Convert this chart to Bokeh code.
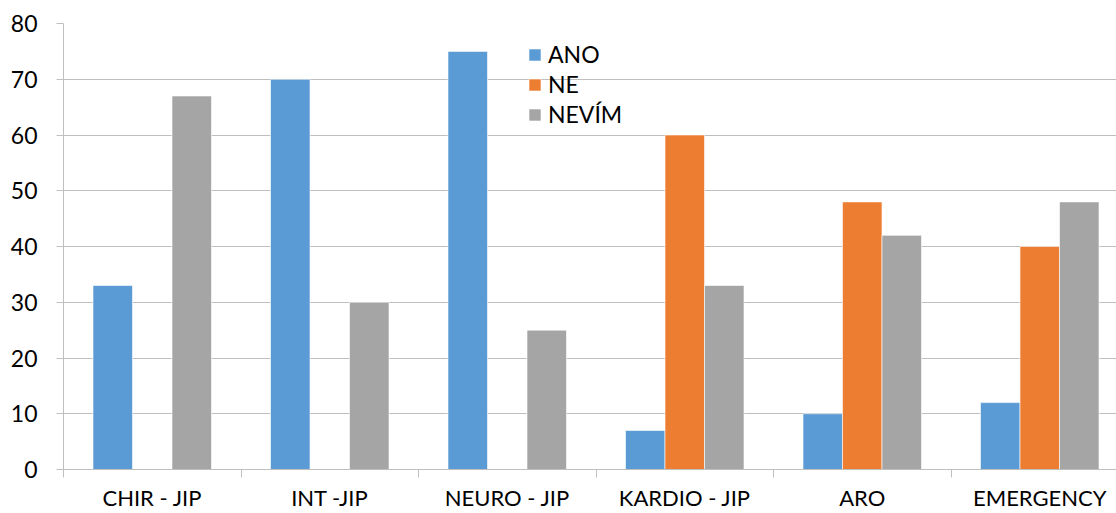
from bokeh.plotting import figure
from bokeh.models import Range1d, FixedTicker, Legend, LegendItem, ColumnDataSource
from bokeh.embed import file_html
from bokeh.resources import INLINE

categories = ["CHIR - JIP", "INT -JIP", "NEURO - JIP", "KARDIO - JIP", "ARO", "EMERGENCY"]
series_names = ["ANO", "NE", "NEVÍM"]
ano = [33, 70, 75, 7, 10, 12]
ne = [0, 0, 0, 60, 48, 40]
nevim = [67, 30, 25, 33, 42, 48]
colors = ["#5B9BD5", "#ED7D31", "#A5A5A5"]
y_ticks = [0, 10, 20, 30, 40, 50, 60, 70, 80]

FONT = "Lato"
W, H = 1116, 513
left, top, bottom = 63, 23, 43
frame_w = W - left
px_per_cat = 177.5

p = figure(width=W, height=H, output_backend="svg", toolbar_location=None,
           x_range=Range1d(0, frame_w / px_per_cat), y_range=Range1d(0, 80),
           min_border_left=left, min_border_right=0, min_border_top=top,
           min_border_bottom=bottom)
p.outline_line_color = None
p.background_fill_color = "white"
p.border_fill_color = "white"

bw = 39.5 / px_per_cat
offsets = [-bw, 0, bw]
renderers = []
for vals, off, col in zip([ano, ne, nevim], offsets, colors):
    xs = [i + 0.5 + off for i, v in enumerate(vals) if v > 0]
    tops = [v for v in vals if v > 0]
    src = ColumnDataSource(dict(x=xs, top=tops))
    r = p.vbar(x="x", top="top", width=bw, source=src, fill_color=col,
               line_color="white", line_width=0.6)
    renderers.append(r)

# x axis
xa = p.xaxis[0]
xa.ticker = FixedTicker(ticks=[i + 0.5 for i in range(len(categories))],
                        minor_ticks=list(range(len(categories) + 1)))
xa.major_label_overrides = {i + 0.5: c for i, c in enumerate(categories)}
xa.major_tick_out = 0
xa.major_tick_in = 0
xa.minor_tick_out = 8
xa.minor_tick_in = 0
xa.minor_tick_line_color = "#bfbfbf"
xa.axis_line_color = "#bfbfbf"
xa.major_label_text_font = FONT
xa.major_label_text_font_size = "22px"
xa.major_label_text_color = "#000000"
xa.major_label_standoff = 6

ya = p.yaxis[0]
ya.ticker = FixedTicker(ticks=y_ticks)
ya.major_tick_out = 7
ya.major_tick_in = 0
ya.minor_tick_out = 0
ya.minor_tick_in = 0
ya.major_tick_line_color = "#bfbfbf"
ya.axis_line_color = "#bfbfbf"
ya.major_label_text_font = FONT
ya.major_label_text_font_size = "23px"
ya.major_label_text_color = "#000000"
ya.major_label_standoff = 19

p.xgrid.visible = False
p.ygrid.ticker = FixedTicker(ticks=y_ticks)
p.ygrid.grid_line_color = "#bfbfbf"

legend = Legend(items=[LegendItem(label=n, renderers=[r]) for n, r in zip(series_names, renderers)],
                location=(464, 341))
legend.glyph_width = 15
legend.glyph_height = 15
legend.label_height = 28
legend.spacing = 2
legend.padding = 0
legend.margin = 0
legend.label_standoff = 6
legend.border_line_color = None
legend.background_fill_alpha = 0
legend.label_text_font = FONT
legend.label_text_font_size = "23px"
legend.label_text_line_height = 1.0
legend.label_text_color = "#000000"
p.add_layout(legend)

open("out.html", "w").write(file_html(p, INLINE))
